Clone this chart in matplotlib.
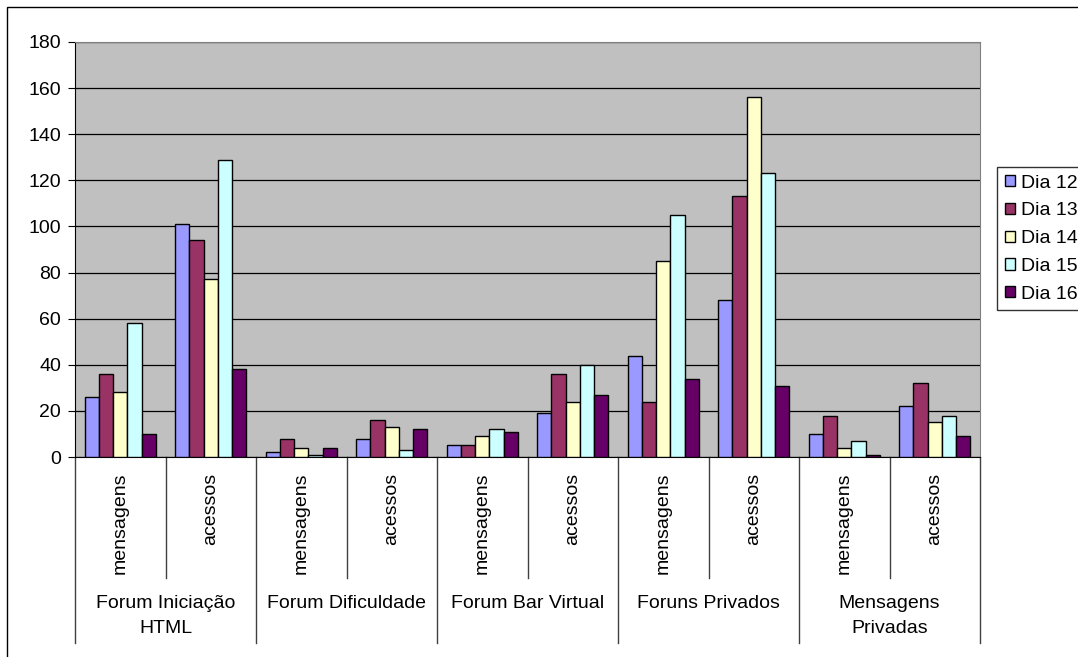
import numpy as np
import matplotlib.pyplot as plt
from matplotlib.patches import Rectangle
from matplotlib.lines import Line2D

plt.rcParams['font.family'] = ['Liberation Sans', 'DejaVu Sans']

groups = ["Forum Iniciação\nHTML", "Forum Dificuldade", "Forum Bar Virtual",
          "Foruns Privados", "Mensagens\nPrivadas"]
subcats = ["mensagens", "acessos"]
series = ["Dia 12", "Dia 13", "Dia 14", "Dia 15", "Dia 16"]
colors = ["#9999FF", "#993366", "#FFFFCC", "#CCFFFF", "#660066"]

dia12 = [26, 101, 2, 8, 5, 19, 44, 68, 10, 22]
dia13 = [36, 94, 8, 16, 5, 36, 24, 113, 18, 32]
dia14 = [28, 77, 4, 13, 9, 24, 85, 156, 4, 15]
dia15 = [58, 129, 1, 3, 12, 40, 105, 123, 7, 18]
dia16 = [10, 38, 4, 12, 11, 27, 34, 31, 1, 9]
values = [dia12, dia13, dia14, dia15, dia16]

fs = 14

fig = plt.figure(figsize=(10.78, 6.57), dpi=100)
ax = fig.add_axes([75/1078, 1-457/657, 905/1078, 415/657])
ax.set_facecolor("#C0C0C0")

n = len(subcats) * len(groups)
x = np.arange(n)
w = 0.157
for i, (name, vals) in enumerate(zip(series, values)):
    ax.bar(x + (i - 2) * w, vals, w, color=colors[i], edgecolor="black",
           linewidth=1, label=name, zorder=3)

ax.set_xlim(-0.5, n - 0.5)
ax.set_ylim(0, 180)
ax.set_yticks(range(0, 181, 20))
ax.tick_params(axis='y', labelsize=fs, direction='out', length=5, pad=5)
ax.yaxis.grid(True, color="black", linewidth=0.9)
ax.set_axisbelow(True)
ax.set_xticks([])
for s in ["top", "right"]:
    ax.spines[s].set_color("#808080")
ax.spines["left"].set_color("black")
ax.spines["bottom"].set_color("black")

# multi-level category axis
trans = ax.get_xaxis_transform()
sub_bottom = -(578 - 457) / 415
grp_bottom = -(643 - 457) / 415
for k in range(n + 1):
    bottom = grp_bottom if k % 2 == 0 else sub_bottom
    ax.add_line(Line2D([k - 0.5, k - 0.5], [0, bottom], transform=trans,
                       color="#404040", linewidth=1, clip_on=False))
for k in range(n):
    ax.text(k, -(473 - 457) / 415, subcats[k % 2], transform=trans, rotation=90,
            ha="center", va="top", fontsize=fs)
for g, name in enumerate(groups):
    ax.text(2 * g + 0.5, -(595 - 457) / 415, name, transform=trans,
            ha="center", va="top", fontsize=fs, linespacing=1.6)

leg = fig.legend(loc="upper left", bbox_to_anchor=(997/1078, 1-167/657),
                 frameon=True, fancybox=False, edgecolor="black", fontsize=fs,
                 handlelength=0.5, handleheight=0.5, handletextpad=0.35,
                 labelspacing=0.55, borderpad=0.4, borderaxespad=0)
leg.get_frame().set_linewidth(1)

fig.patches.append(Rectangle((7/1078, -0.1), 1.2, 1 - 7/657 + 0.1,
                             transform=fig.transFigure, fill=False,
                             edgecolor="black", linewidth=1))

fig.savefig("out.png", dpi=100)
